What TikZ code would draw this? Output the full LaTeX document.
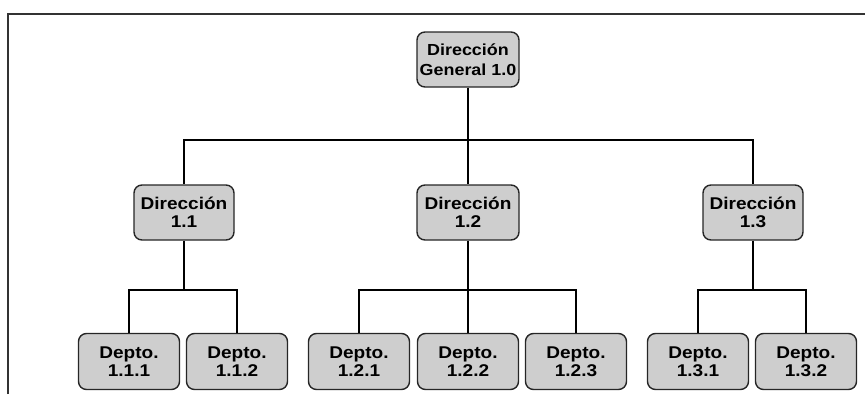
\documentclass[tikz,border=0pt]{standalone}
\usepackage{fontspec}
\setmainfont{Liberation Sans}[FakeStretch=1.12]
\begin{document}
\begin{tikzpicture}[x=1pt,y=-1pt,
  box/.style={draw=black!85, line width=1.4pt, fill={rgb,255:red,206;green,206;blue,206},
    rounded corners=8pt, minimum width=101pt, minimum height=56pt, inner sep=0pt,
    align=center, font=\bfseries\fontsize{17}{18}\selectfont},
  topbox/.style={box, font=\bfseries\fontsize{16}{20}\selectfont, minimum width=102pt, minimum height=55pt},
  conn/.style={draw=black, line width=1.1pt},
  frame/.style={draw=black!80, line width=2pt}]
\useasboundingbox (0,0) rectangle (865,394);
\draw[frame] (8,394) -- (8,14) -- (866,14);

\node[topbox] (g) at (468,59.5) {Dirección\\General 1.0};

\node[box, minimum width=100pt, minimum height=55pt] (d1) at (184,212.5) {Dirección\\1.1};
\node[box, minimum width=102pt, minimum height=55pt] (d2) at (468,212.5) {Dirección\\1.2};
\node[box, minimum width=100pt, minimum height=55pt] (d3) at (753,212.5) {Dirección\\1.3};

\node[box] (p111) at (129,361.5) {Depto.\\1.1.1};
\node[box] (p112) at (237,361.5) {Depto.\\1.1.2};
\node[box] (p121) at (359,361.5) {Depto.\\1.2.1};
\node[box] (p122) at (468,361.5) {Depto.\\1.2.2};
\node[box] (p123) at (576,361.5) {Depto.\\1.2.3};
\node[box] (p131) at (698,361.5) {Depto.\\1.3.1};
\node[box] (p132) at (806,361.5) {Depto.\\1.3.2};

\coordinate (b0) at (468,140);
\coordinate (b1) at (184,290);
\coordinate (b2) at (468,290);
\coordinate (b3) at (753,290);

\draw[conn] (g.south) -- (b0);
\draw[conn] (d1.north) |- (b0) -| (d3.north);
\draw[conn] (b0) -- (d2.north);

\draw[conn] (d1.south) -- (b1);
\draw[conn] (p111.north) |- (b1) -| (p112.north);

\draw[conn] (d2.south) -- (b2);
\draw[conn] (p121.north) |- (b2) -| (p123.north);
\draw[conn] (b2) -- (p122.north);

\draw[conn] (d3.south) -- (b3);
\draw[conn] (p131.north) |- (b3) -| (p132.north);
\end{tikzpicture}
\end{document}
